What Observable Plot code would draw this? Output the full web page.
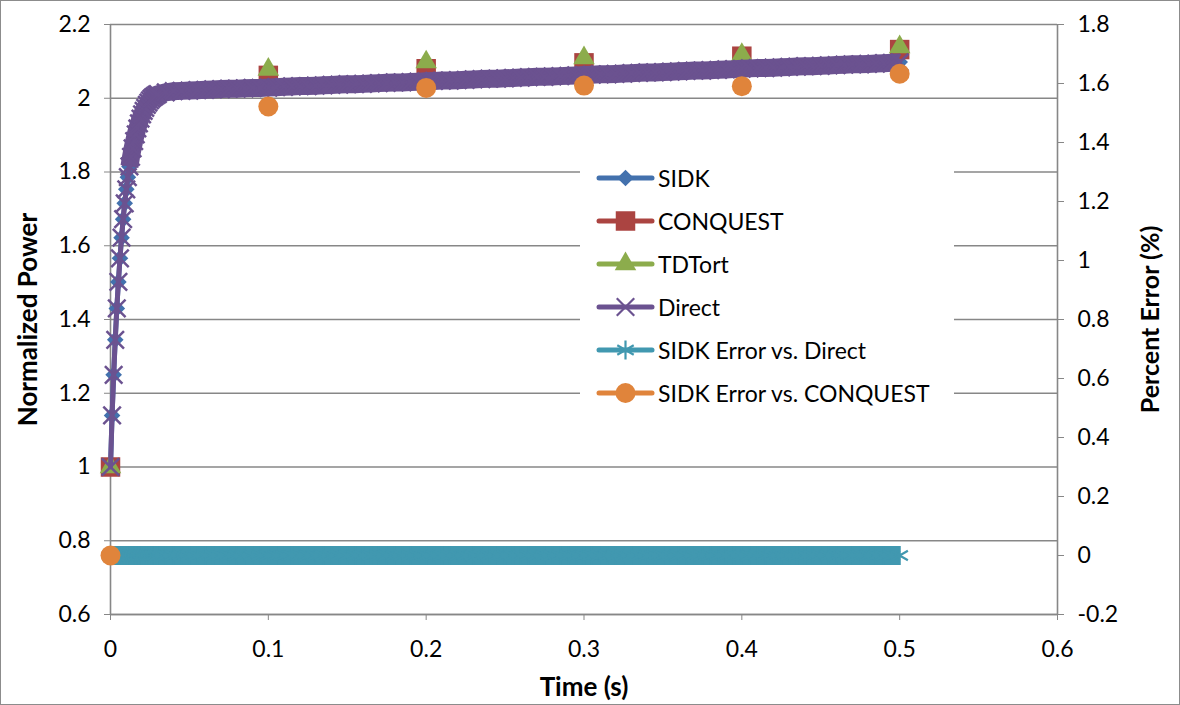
<!DOCTYPE html>
<html>
<head>
<meta charset="utf-8">
<script src="https://cdn.jsdelivr.net/npm/d3@7"></script>
<script src="https://cdn.jsdelivr.net/npm/@observablehq/plot@0.6"></script>
<style>
  body { margin: 0; background: #fff; }
  #wrap { position: relative; width: 1180px; height: 705px; font-family: Lato, "Open Sans", sans-serif; color: #000; }
  #border { position: absolute; left: 0; top: 0; width: 1180px; height: 705px; box-sizing: border-box; border: 1px solid #8c8c8c; pointer-events: none; }
  #legend { position: absolute; left: 580px; top: 157px; width: 374px; height: 257px; background: #fff; }
  .row { position: absolute; left: 0; height: 30px; width: 374px; }
  .row svg { position: absolute; left: 16px; top: 0; }
  .row span { position: absolute; left: 78px; top: 50%; transform: translateY(-50%); font-size: 23px; white-space: nowrap; line-height: 1; }
</style>
</head>
<body>
<div id="wrap"></div>
<script>
// ---- Data ----
// Dense time grid (s) for SIDK / Direct / SIDK error vs. Direct
const time = [
  0, 0.001, 0.002, 0.003, 0.004, 0.005, 0.006, 0.007, 0.008, 0.009,
  0.010, 0.011, 0.012, 0.013, 0.014, 0.015, 0.016, 0.017, 0.018, 0.019,
  0.020, 0.021, 0.022, 0.023, 0.024, 0.025, 0.026, 0.027, 0.028, 0.029, 0.030,
  0.035, 0.040, 0.045, 0.050, 0.055, 0.060, 0.065, 0.070, 0.075, 0.080, 0.085, 0.090, 0.095, 0.100,
  0.105, 0.110, 0.115, 0.120, 0.125, 0.130, 0.135, 0.140, 0.145, 0.150,
  0.155, 0.160, 0.165, 0.170, 0.175, 0.180, 0.185, 0.190, 0.195, 0.200,
  0.205, 0.210, 0.215, 0.220, 0.225, 0.230, 0.235, 0.240, 0.245, 0.250,
  0.255, 0.260, 0.265, 0.270, 0.275, 0.280, 0.285, 0.290, 0.295, 0.300,
  0.305, 0.310, 0.315, 0.320, 0.325, 0.330, 0.335, 0.340, 0.345, 0.350,
  0.355, 0.360, 0.365, 0.370, 0.375, 0.380, 0.385, 0.390, 0.395, 0.400,
  0.405, 0.410, 0.415, 0.420, 0.425, 0.430, 0.435, 0.440, 0.445, 0.450,
  0.455, 0.460, 0.465, 0.470, 0.475, 0.480, 0.485, 0.490, 0.495, 0.500
];
// Normalized power, Direct
const direct = [
  1.000, 1.140, 1.250, 1.345, 1.430, 1.502, 1.566, 1.622, 1.672, 1.715,
  1.753, 1.786, 1.815, 1.841, 1.864, 1.884, 1.902, 1.918, 1.932, 1.945,
  1.956, 1.966, 1.974, 1.982, 1.988, 1.994, 1.999, 2.003, 2.006, 2.009, 2.011,
  2.016, 2.019, 2.020, 2.021, 2.022, 2.023, 2.024, 2.025, 2.026, 2.026, 2.027, 2.028, 2.028, 2.029,
  2.030, 2.031, 2.032, 2.033, 2.033, 2.034, 2.035, 2.036, 2.037, 2.038,
  2.038, 2.039, 2.040, 2.041, 2.042, 2.043, 2.043, 2.044, 2.045, 2.046,
  2.047, 2.048, 2.048, 2.049, 2.050, 2.051, 2.052, 2.053, 2.053, 2.054,
  2.055, 2.056, 2.057, 2.058, 2.058, 2.059, 2.060, 2.061, 2.062, 2.063,
  2.064, 2.065, 2.065, 2.066, 2.067, 2.068, 2.069, 2.070, 2.070, 2.071,
  2.072, 2.073, 2.074, 2.075, 2.075, 2.076, 2.077, 2.078, 2.079, 2.080,
  2.081, 2.082, 2.082, 2.083, 2.084, 2.085, 2.086, 2.087, 2.087, 2.088,
  2.089, 2.090, 2.091, 2.092, 2.092, 2.093, 2.094, 2.095, 2.096, 2.097
];
// Normalized power, SIDK (coincides with Direct at this resolution)
const sidk = [
  1.000, 1.140, 1.250, 1.345, 1.430, 1.502, 1.566, 1.622, 1.672, 1.715,
  1.753, 1.786, 1.815, 1.841, 1.864, 1.884, 1.902, 1.918, 1.932, 1.945,
  1.956, 1.966, 1.974, 1.982, 1.988, 1.994, 1.999, 2.003, 2.006, 2.009, 2.011,
  2.016, 2.019, 2.020, 2.021, 2.022, 2.023, 2.024, 2.025, 2.026, 2.026, 2.027, 2.028, 2.028, 2.029,
  2.030, 2.031, 2.032, 2.033, 2.033, 2.034, 2.035, 2.036, 2.037, 2.038,
  2.038, 2.039, 2.040, 2.041, 2.042, 2.043, 2.043, 2.044, 2.045, 2.046,
  2.047, 2.048, 2.048, 2.049, 2.050, 2.051, 2.052, 2.053, 2.053, 2.054,
  2.055, 2.056, 2.057, 2.058, 2.058, 2.059, 2.060, 2.061, 2.062, 2.063,
  2.064, 2.065, 2.065, 2.066, 2.067, 2.068, 2.069, 2.070, 2.070, 2.071,
  2.072, 2.073, 2.074, 2.075, 2.075, 2.076, 2.077, 2.078, 2.079, 2.080,
  2.081, 2.082, 2.082, 2.083, 2.084, 2.085, 2.086, 2.087, 2.087, 2.088,
  2.089, 2.090, 2.091, 2.092, 2.092, 2.093, 2.094, 2.095, 2.096, 2.098
];
// Percent error (%), SIDK vs. Direct (right axis)
const errDirect = [
  0, 0, 0, 0, 0, 0, 0, 0, 0, 0,
  0, 0, 0, 0, 0, 0, 0, 0, 0, 0,
  0, 0, 0, 0, 0, 0, 0, 0, 0, 0, 0,
  0, 0, 0, 0, 0, 0, 0, 0, 0, 0, 0, 0, 0, 0,
  0, 0, 0, 0, 0, 0, 0, 0, 0, 0,
  0, 0, 0, 0, 0, 0, 0, 0, 0, 0,
  0, 0, 0, 0, 0, 0, 0, 0, 0, 0,
  0, 0, 0, 0, 0, 0, 0, 0, 0, 0,
  0, 0, 0, 0, 0, 0, 0, 0, 0, 0,
  0, 0, 0, 0, 0, 0, 0, 0, 0, 0,
  0, 0, 0, 0, 0, 0, 0, 0, 0, 0,
  0, 0, 0, 0, 0, 0, 0, 0, 0, 0
];
// Sparse comparison points
const timeSparse = [0, 0.1, 0.2, 0.3, 0.4, 0.5];
const conquest = [1.000, 2.062, 2.080, 2.096, 2.114, 2.132];
const tdtort   = [1.000, 2.078, 2.098, 2.109, 2.118, 2.139];
const errConquest = [0, 1.522, 1.585, 1.593, 1.591, 1.633]; // percent, right axis

// Axis ticks
const xTicks = [0, 0.1, 0.2, 0.3, 0.4, 0.5, 0.6];
const yLeftTicks = [0.6, 0.8, 1.0, 1.2, 1.4, 1.6, 1.8, 2.0, 2.2];
const yRightTicks = [-0.2, 0, 0.2, 0.4, 0.6, 0.8, 1.0, 1.2, 1.4, 1.6, 1.8];

const seriesNames = ["SIDK", "CONQUEST", "TDTort", "Direct", "SIDK Error vs. Direct", "SIDK Error vs. CONQUEST"];
const seriesColors = ["#4371ad", "#ab4441", "#8cac4c", "#6b5290", "#4198b0", "#e0843b"];
const seriesSymbols = ["diamond2", "square", "triangle", "times", "asterisk", "circle"];
const seriesR = [7.5, 11, 8, 8, 9, 10];

// ---- Scales mapping: right axis [-0.2, 1.8] onto left axis [0.6, 2.2] ----
const toLeft = v => 0.6 + (v + 0.2) * 0.8;
const fromLeft = y => (y - 0.6) / 0.8 - 0.2;
const fmt = v => String(Math.round(v * 10) / 10);

const dense = time.map((t, i) => ({t, sidk: sidk[i], direct: direct[i], err: toLeft(errDirect[i])}));
const denseMerged = dense.filter(d => d.t >= 0.012); // where overlapping markers merge into a solid band
const sparse = timeSparse.map((t, i) => ({t, conquest: conquest[i], tdtort: tdtort[i], err: toLeft(errConquest[i])}));

const C = Object.fromEntries(seriesNames.map((n, i) => [n, seriesColors[i]]));
const gridColor = "#878787";
const FONT = "Lato, 'Open Sans', sans-serif";

const chart = Plot.plot({
  width: 1180,
  height: 705,
  marginLeft: 110,
  marginRight: 123,
  marginTop: 24,
  marginBottom: 91,
  style: {fontFamily: FONT, fontSize: "23px", color: "#000", background: "transparent", overflow: "visible"},
  x: {domain: [0, 0.6]},
  y: {domain: [0.6, 2.2]},
  marks: [
    Plot.gridY(yLeftTicks, {stroke: gridColor, strokeOpacity: 1, strokeWidth: 1.6}),
    Plot.ruleX([0], {stroke: gridColor, strokeWidth: 1.6}),
    Plot.ruleX([0.6], {stroke: gridColor, strokeWidth: 1.6}),
    Plot.ruleY([0.6], {stroke: gridColor, strokeWidth: 1.6}),
    Plot.axisX(xTicks, {tickSize: 6, tickPadding: 20, stroke: gridColor, tickFormat: fmt, label: null}),
    Plot.axisY(yLeftTicks, {anchor: "left", tickSize: 6, tickPadding: 14, stroke: gridColor, tickFormat: fmt, label: null}),
    Plot.axisY(yRightTicks.map(toLeft), {anchor: "right", tickSize: 6, tickPadding: 14, stroke: gridColor, tickFormat: d => fmt(fromLeft(d)), label: null}),
    Plot.text(["Normalized Power"], {frameAnchor: "left", dx: -82, rotate: -90, textAnchor: "middle", fontWeight: "bold", fontSize: 26}),
    Plot.text(["Percent Error (%)"], {frameAnchor: "right", dx: 93, rotate: -90, textAnchor: "middle", fontWeight: "bold", fontSize: 25}),
    Plot.text(["Time (s)"], {frameAnchor: "bottom", dy: 81, fontWeight: "bold", fontSize: 26}),
    // SIDK
    Plot.line(dense, {x: "t", y: "sidk", stroke: C["SIDK"], strokeWidth: 5, strokeLinejoin: "round", strokeLinecap: "round"}),
    Plot.dot(dense, {x: "t", y: "sidk", symbol: "diamond2", r: seriesR[0], fill: C["SIDK"], stroke: "none"}),
    // CONQUEST
    Plot.dot(sparse, {x: "t", y: "conquest", symbol: "square", r: seriesR[1], fill: C["CONQUEST"], stroke: "none"}),
    // TDTort
    Plot.dot(sparse, {x: "t", y: "tdtort", symbol: "triangle", r: seriesR[2], fill: C["TDTort"], stroke: "none"}),
    // Direct
    Plot.line(denseMerged, {x: "t", y: "direct", stroke: C["Direct"], strokeWidth: 18, strokeLinejoin: "round", strokeLinecap: "butt"}),
    Plot.line(dense, {x: "t", y: "direct", stroke: C["Direct"], strokeWidth: 5, strokeLinejoin: "round", strokeLinecap: "round"}),
    Plot.dot(dense, {x: "t", y: "direct", symbol: "times", r: seriesR[3], stroke: C["Direct"], strokeWidth: 2.5, fill: "none"}),
    // SIDK Error vs. Direct
    Plot.line(dense, {x: "t", y: "err", stroke: C["SIDK Error vs. Direct"], strokeWidth: 19, strokeLinejoin: "round", strokeLinecap: "butt"}),
    Plot.dot(dense, {x: "t", y: "err", symbol: "asterisk", r: seriesR[4], stroke: C["SIDK Error vs. Direct"], strokeWidth: 2.2, fill: "none"}),
    // SIDK Error vs. CONQUEST
    Plot.dot(sparse, {x: "t", y: "err", symbol: "circle", r: seriesR[5], fill: C["SIDK Error vs. CONQUEST"], stroke: "none"})
  ]
});

const wrap = document.getElementById("wrap");
wrap.appendChild(chart);

// ---- Legend (inside the plot area, white box) ----
const symMap = {
  diamond2: d3.symbolDiamond2, square: d3.symbolSquare, triangle: d3.symbolTriangle,
  times: d3.symbolTimes, asterisk: d3.symbolAsterisk, circle: d3.symbolCircle
};
const stroked = new Set(["times", "asterisk"]);
const legend = document.createElement("div");
legend.id = "legend";
const rowStep = 43, firstRow = 21;
seriesNames.forEach((name, i) => {
  const row = document.createElement("div");
  row.className = "row";
  row.style.top = (firstRow + i * rowStep - 15) + "px";
  const svg = d3.create("svg").attr("width", 60).attr("height", 30);
  svg.append("line").attr("x1", 3).attr("x2", 56).attr("y1", 15).attr("y2", 15)
    .attr("stroke", seriesColors[i]).attr("stroke-width", 5).attr("stroke-linecap", "round");
  const s = seriesSymbols[i];
  const p = svg.append("path")
    .attr("transform", "translate(29.5,15)")
    .attr("d", d3.symbol(symMap[s], Math.PI * seriesR[i] * seriesR[i])());
  if (stroked.has(s)) p.attr("fill", "none").attr("stroke", seriesColors[i]).attr("stroke-width", 2.2);
  else p.attr("fill", seriesColors[i]);
  row.appendChild(svg.node());
  const span = document.createElement("span");
  span.textContent = name;
  row.appendChild(span);
  legend.appendChild(row);
});
wrap.appendChild(legend);

const border = document.createElement("div");
border.id = "border";
wrap.appendChild(border);
</script>
</body>
</html>
